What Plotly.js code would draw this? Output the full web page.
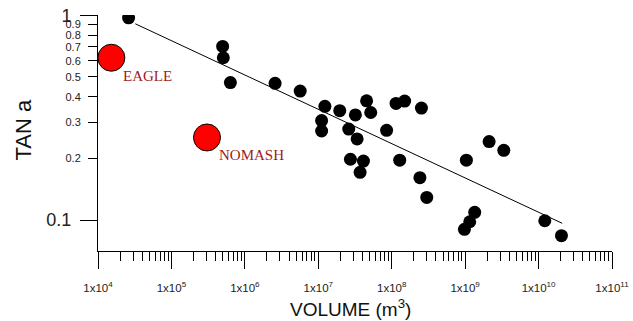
<!DOCTYPE html>
<html>
<head>
<meta charset="utf-8">
<script src="https://cdn.plot.ly/plotly-3.0.1.min.js"></script>
<style>html,body{margin:0;padding:0;background:#fff;}#chart{width:633px;height:321px;}</style>
</head>
<body>
<div id="chart"></div>
<script>
// Black data points: volume (m^3) and TAN a
var volume = [2.61e4, 4.98e5, 5.09e5, 6.35e5, 2.58e6, 5.67e6, 1.23e7, 1.96e7, 4.55e7, 5.18e7,
  3.20e7, 1.11e7, 1.11e7, 2.60e7, 3.38e7, 8.52e7, 1.145e8, 1.50e8, 2.54e8, 2.74e7,
  4.12e7, 3.71e7, 1.285e8, 2.42e8, 3.0e8, 1.04e9, 2.12e9, 3.36e9, 1.35e9, 1.155e9,
  9.78e8, 1.215e10, 2.05e10];
var tanA = [0.971, 0.704, 0.620, 0.469, 0.465, 0.426, 0.359, 0.342, 0.382, 0.335,
  0.326, 0.306, 0.272, 0.278, 0.249, 0.274, 0.371, 0.381, 0.352, 0.198,
  0.194, 0.171, 0.196, 0.161, 0.129, 0.196, 0.2416, 0.219, 0.109, 0.0981,
  0.0901, 0.0992, 0.0839];
// Named events (red)
var eventNames = ["EAGLE", "NOMASH"];
var eventVolume = [1.52e4, 3.05e5];
var eventTan = [0.620, 0.253];
// Fitted line endpoints
var fitX = [3.22e4, 2.097e10];
var fitY = [0.908, 0.0964];
// Axis ticks
var xMajor = [1e4, 1e5, 1e6, 1e7, 1e8, 1e9, 1e10, 1e11];
var xMajorText = ["1x10<sup>4</sup>", "1x10<sup>5</sup>", "1x10<sup>6</sup>", "1x10<sup>7</sup>",
  "1x10<sup>8</sup>", "1x10<sup>9</sup>", "1x10<sup>10</sup>", "1x10<sup>11</sup>"];
var yMinor = [0.2, 0.3, 0.4, 0.5, 0.6, 0.7, 0.8, 0.9];
var yMinorText = ["0.2", "0.3", "0.4", "0.5", "0.6", "0.7", "0.8", "0.9"];
var yMajor = [0.1, 1];
var yMajorText = ["0.1", "1"];
var xTitle = "VOLUME (m<sup>3</sup>)";
var yTitle = "TAN a";

var xMinorVals = [];
for (var e = 4; e < 11; e++) {
  for (var m = 2; m <= 9; m++) xMinorVals.push(m * Math.pow(10, e));
}

var yRange = [Math.log10(0.0706), 0.001];
var labelColor = "#9e1b1b";

var traces = [
  {x: fitX, y: fitY, mode: "lines", line: {color: "#000", width: 1}, hoverinfo: "skip", xaxis: "x", yaxis: "y"},
  {x: volume, y: tanA, mode: "markers", marker: {color: "#000", size: 13, line: {width: 0}}, xaxis: "x", yaxis: "y"},
  {x: eventVolume, y: eventTan, mode: "markers", marker: {color: "#ff0000", size: 27, line: {color: "#000", width: 1}}, xaxis: "x", yaxis: "y"}
];

var annotations = eventNames.map(function (name, i) {
  return {
    x: Math.log10(eventVolume[i]), y: Math.log10(eventTan[i]), xref: "x", yref: "y",
    text: name, showarrow: false, xanchor: "left", yanchor: "middle",
    xshift: 10, yshift: -18,
    font: {family: "Liberation Serif, Times New Roman, serif", size: 15, color: labelColor}
  };
});
annotations.push({
  xref: "paper", yref: "paper", x: -0.1459, y: 0.5106, xanchor: "center", yanchor: "middle",
  text: yTitle, textangle: -90, showarrow: false,
  font: {family: "Liberation Sans, Arial, sans-serif", size: 22, color: "#111"}
});
annotations.push({
  xref: "paper", yref: "paper", x: 0.4903, y: -0.2415, xanchor: "center", yanchor: "middle",
  text: xTitle, showarrow: false,
  font: {family: "Liberation Sans, Arial, sans-serif", size: 19, color: "#111"}
});

var layout = {
  width: 633, height: 321,
  margin: {l: 98, r: 21, t: 15, b: 70, pad: 0},
  paper_bgcolor: "#fff", plot_bgcolor: "#fff",
  showlegend: false,
  font: {family: "Liberation Sans, Arial, sans-serif", color: "#222"},
  xaxis: {
    type: "log", range: [4, 11], automargin: false,
    showgrid: false, zeroline: false, showline: true, linecolor: "#000", linewidth: 1,
    ticks: "outside", ticklen: 17, tickwidth: 1, tickcolor: "#000",
    tickmode: "array", tickvals: xMajor, ticktext: xMajorText,
    tickfont: {size: 11.5, color: "#222"}, ticklabelstandoff: 9,
    minor: {tickmode: "array", tickvals: xMinorVals, ticks: "outside", ticklen: 9, tickwidth: 1, tickcolor: "#000", showgrid: false}
  },
  yaxis: {
    type: "log", range: yRange, automargin: false,
    showgrid: false, zeroline: false, showline: true, linecolor: "#000", linewidth: 1,
    ticks: "outside", ticklen: 9, tickwidth: 1, tickcolor: "#000",
    tickmode: "array", tickvals: yMinor, ticktext: yMinorText,
    tickfont: {size: 11, color: "#222"}, ticklabelstandoff: 5
  },
  yaxis2: {
    type: "log", range: yRange, overlaying: "y", side: "left", anchor: "x", automargin: false,
    showgrid: false, zeroline: false, showline: false,
    ticks: "outside", ticklen: 17, tickwidth: 1, tickcolor: "#000",
    tickmode: "array", tickvals: yMajor, ticktext: yMajorText,
    tickfont: {size: 18, color: "#222"}, ticklabelstandoff: 5
  },
  annotations: annotations
};

// invisible trace to activate yaxis2
traces.push({x: [1e5], y: [0.5], mode: "markers", marker: {opacity: 0}, hoverinfo: "skip", xaxis: "x", yaxis: "y2"});

Plotly.newPlot("chart", traces, layout, {staticPlot: true, displayModeBar: false});
</script>
</body>
</html>
